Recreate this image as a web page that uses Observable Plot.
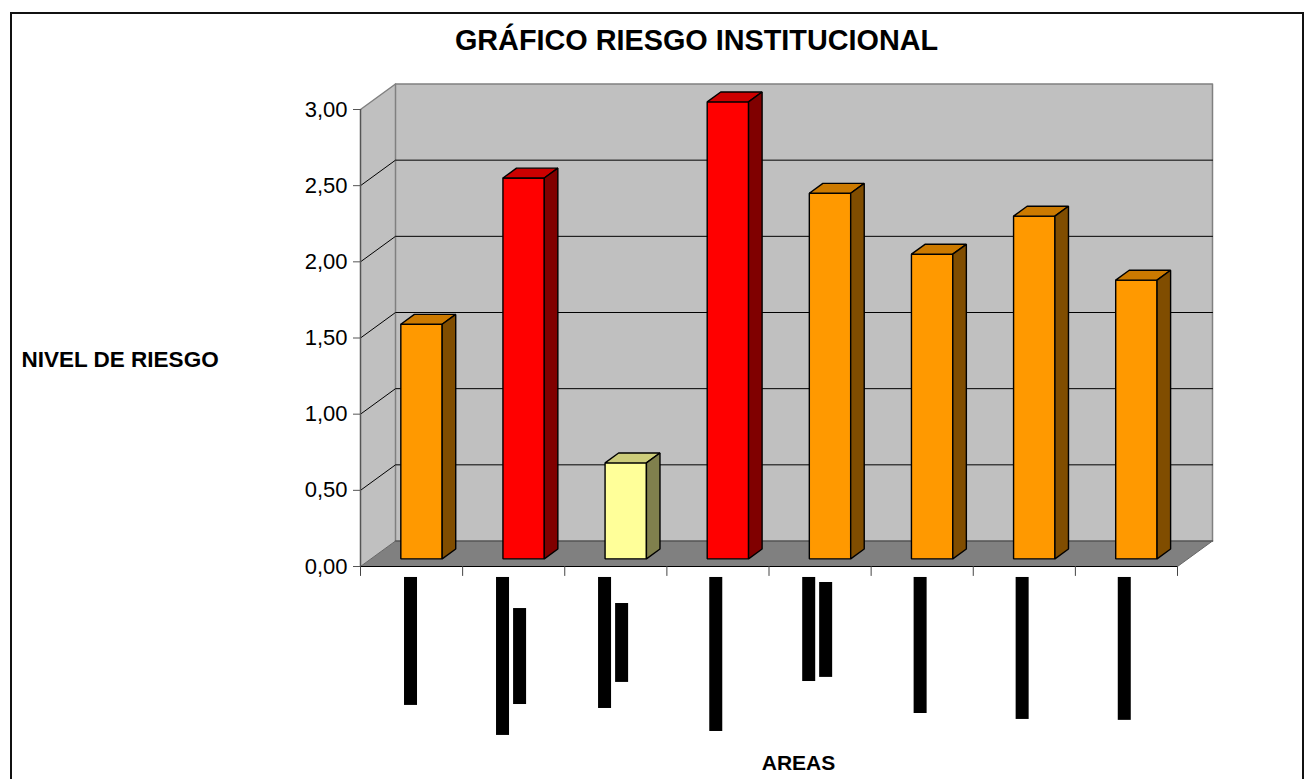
<!DOCTYPE html>
<html><head><meta charset="utf-8">
<script src="https://cdn.jsdelivr.net/npm/d3@7"></script>
<script src="https://cdn.jsdelivr.net/npm/@observablehq/plot@0.6"></script>
<style>
html,body{margin:0;padding:0;background:#fff;overflow:hidden}
#chart{position:relative;width:1306px;height:779px}
#chart svg{display:block}
</style></head><body><div id="chart"></div>
<script>
const categories = [0,1,2,3,4,5,6,7];
const riesgo = [1.54,2.50,0.63,3.00,2.40,2.00,2.25,1.83];
const niveles = ["medio","alto","bajo","alto","medio","medio","medio","medio"];
const yTicks = [0,0.5,1,1.5,2,2.5,3];
// hidden (blacked-out) category labels: position along the category axis and extent on the y scale
const blockX = [0.431,1.332,1.499,2.331,2.498,3.420,4.330,4.496,5.421,6.420,7.420];
const blockTop = [-0.072,-0.072,-0.276,-0.072,-0.243,-0.072,-0.072,-0.105,-0.072,-0.072,-0.072];
const blockEnd = [-0.912,-1.109,-0.906,-0.932,-0.761,-1.083,-0.755,-0.728,-0.965,-1.004,-1.010];

const W = 1306, H = 779, X0 = 360, X1 = 1177, Y0 = 566, Y3 = 109;
const dxPerDepth = 35/((X1-X0)/8), dyPerDepth = 25.5/((Y0-Y3)/3);
const px = (i,d)=> i + d*dxPerDepth;
const py = (v,d)=> v + d*dyPerDepth;
const palette = {
  medio:{front:"#ff9900",side:"#804d00",top:"#cc7a00"},
  alto:{front:"#ff0000",side:"#800000",top:"#cc0000"},
  bajo:{front:"#ffff99",side:"#80804d",top:"#cccc7a"}
};
const poly = (id,fill,pts)=>pts.map(([i,v,d])=>({id,fill,x:px(i,d),y:py(v,d)}));

const A=0.292,B=0.697,D0=0.30,D1=0.687;
const bars = categories.flatMap(c=>{
  const v=riesgo[c], p=palette[niveles[c]], a=c+A, b=c+B;
  return [
    ...poly("f"+c,p.front,[[a,0,D0],[b,0,D0],[b,v,D0],[a,v,D0]]),
    ...poly("t"+c,p.top,[[a,v,D0],[b,v,D0],[b,v,D1],[a,v,D1]]),
    ...poly("s"+c,p.side,[[b,0,D0],[b,0,D1],[b,v,D1],[b,v,D0]])
  ];
});
const walls = [
  ...poly("left","#c0c0c0",[[0,0,0],[0,0,1],[0,3,1],[0,3,0]]),
  ...poly("back","#c0c0c0",[[0,0,1],[8,0,1],[8,3,1],[0,3,1]])
];
const floor = poly("floor","#808080",[[0,0,0],[8,0,0],[8,0,1],[0,0,1]]);
const grid = yTicks.slice(1,-1).flatMap(v=>[
  {id:v,x:px(0,0),y:py(v,0)},{id:v,x:px(0,1),y:py(v,1)},{id:v,x:px(8,1),y:py(v,1)}
]);
const wallEdge = [
  {x:px(0,0),y:py(3,0)},{x:px(0,1),y:py(3,1)},{x:px(8,1),y:py(3,1)},{x:px(8,1),y:py(0,1)}
];
const floorBack = [{x:px(0,1),y:py(0,1)},{x:px(8,1),y:py(0,1)}];
const corner = [{x:px(0,1),y:py(0,1)},{x:px(0,1),y:py(3,1)}];
const floorEdge = [
  {id:"r",x:px(8,0),y:py(0,0)},{id:"r",x:px(8,1),y:py(0,1)},
  {id:"l",x:px(0,0),y:py(0,0)},{id:"l",x:px(0,1),y:py(0,1)}
];
const blocks = blockX.map((x,i)=>({x1:x,x2:x+13/((X1-X0)/8),y1:blockTop[i],y2:blockEnd[i]}));
const font = "'Liberation Sans',Arial,sans-serif";

const plot = Plot.plot({
  width:W,height:H,marginLeft:X0,marginRight:W-X1,marginTop:Y3,marginBottom:H-Y0,
  style:{fontFamily:font,background:"#fff",overflow:"visible"},
  x:{type:"linear",domain:[0,8],axis:null},
  y:{type:"linear",domain:[0,3],axis:null},
  color:{type:"identity"},
  marks:[
    Plot.line(walls,{x:"x",y:"y",z:"id",fill:"fill",stroke:null,curve:"linear-closed"}),
    Plot.line(floor,{x:"x",y:"y",z:"id",fill:"fill",stroke:null,curve:"linear-closed"}),
    Plot.line(wallEdge,{x:"x",y:"y",stroke:"#808080",strokeWidth:1.5}),
    Plot.line(corner,{x:"x",y:"y",stroke:"#808080",strokeWidth:1.5}),
    Plot.line(floorBack,{x:"x",y:"y",stroke:"#555",strokeWidth:1.5}),
    Plot.line(grid,{x:"x",y:"y",z:"id",stroke:"#000",strokeWidth:1}),
    Plot.line(floorEdge,{x:"x",y:"y",z:"id",stroke:"#666",strokeWidth:1}),
    Plot.line(bars,{x:"x",y:"y",z:"id",fill:"fill",stroke:"#000",strokeWidth:1.4,strokeLinejoin:"miter",curve:"linear-closed"}),
    Plot.ruleX([0],{y1:0,y2:3,stroke:"#555",strokeWidth:1.5}),
    Plot.ruleY([0],{x1:0,x2:8,stroke:"#000",strokeWidth:1.2}),
    Plot.axisY({ticks:yTicks,label:null,tickSize:7,tickPadding:6,fontSize:22,stroke:"#555",color:"#000",tickFormat:d=>d.toFixed(2).replace(".",",")}),
    Plot.ruleX(d3.range(0,9),{y1:0,y2:-0.065,stroke:"#444",strokeWidth:1}),
    Plot.rect(blocks,{x1:"x1",x2:"x2",y1:"y1",y2:"y2",fill:"#000"}),
    Plot.text(["GRÁFICO RIESGO INSTITUCIONAL"],{frameAnchor:"top-left",dx:336,dy:-80,textAnchor:"middle",fontSize:28.8,fontWeight:"bold",fill:"#000"}),
    Plot.text(["NIVEL DE RIESGO"],{frameAnchor:"top-left",dx:-339,dy:242,textAnchor:"start",fontSize:22.5,fontWeight:"bold",fill:"#000"}),
    Plot.text(["AREAS"],{frameAnchor:"top-left",dx:438,dy:646,textAnchor:"middle",fontSize:21,fontWeight:"bold",fill:"#000"})
  ]
});
document.getElementById("chart").appendChild(plot);
const frame=document.createElement("div");
frame.style.cssText="position:absolute;left:10px;top:12px;width:1294px;height:800px;border:2px solid #111;box-sizing:border-box;pointer-events:none";
document.getElementById("chart").appendChild(frame);
</script></body></html>
